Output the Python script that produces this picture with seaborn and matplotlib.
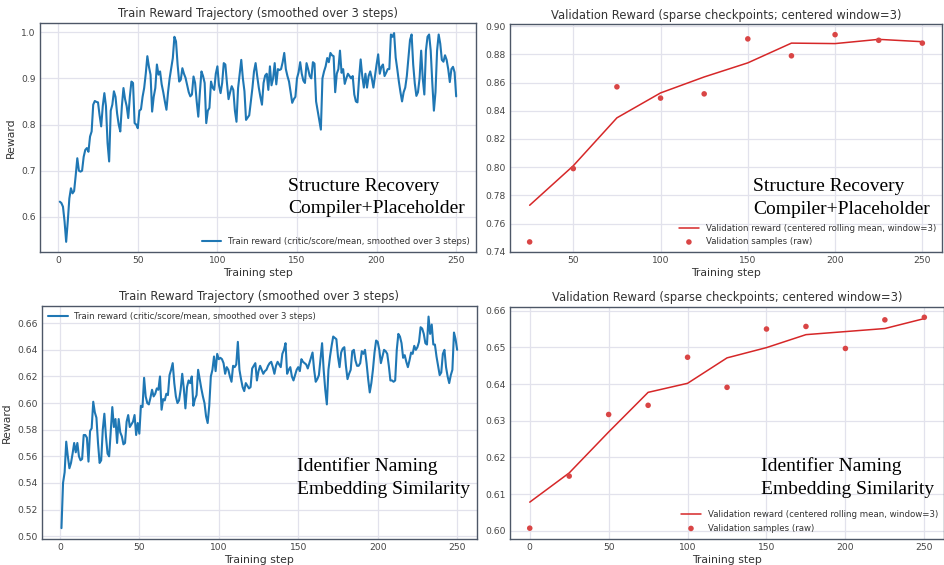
import numpy as np
import pandas as pd
import matplotlib
matplotlib.use("Agg")
import matplotlib.pyplot as plt
import seaborn as sns

# ---- data ----
train_steps = list(range(1, 251))

# Structure Recovery (compiler + placeholder) train reward, smoothed over 3 steps
sr_train = [
    0.633, 0.630, 0.622, 0.590, 0.546, 0.590, 0.640, 0.662, 0.651, 0.656,
    0.690, 0.727, 0.700, 0.698, 0.700, 0.730, 0.745, 0.749, 0.741, 0.774,
    0.785, 0.843, 0.851, 0.849, 0.848, 0.820, 0.796, 0.840, 0.868, 0.840,
    0.760, 0.720, 0.830, 0.843, 0.872, 0.860, 0.824, 0.800, 0.785, 0.840,
    0.879, 0.855, 0.840, 0.814, 0.860, 0.893, 0.890, 0.803, 0.800, 0.792,
    0.830, 0.833, 0.860, 0.879, 0.910, 0.948, 0.925, 0.908, 0.828, 0.860,
    0.879, 0.930, 0.908, 0.915, 0.887, 0.870, 0.850, 0.832, 0.870, 0.900,
    0.922, 0.944, 0.990, 0.980, 0.930, 0.893, 0.897, 0.922, 0.910, 0.901,
    0.885, 0.870, 0.861, 0.865, 0.904, 0.890, 0.850, 0.817, 0.870, 0.915,
    0.905, 0.890, 0.803, 0.830, 0.836, 0.893, 0.880, 0.875, 0.910, 0.926,
    0.885, 0.868, 0.890, 0.933, 0.930, 0.890, 0.855, 0.870, 0.883, 0.875,
    0.830, 0.806, 0.879, 0.910, 0.940, 0.900, 0.872, 0.810, 0.815, 0.820,
    0.850, 0.879, 0.915, 0.933, 0.905, 0.880, 0.860, 0.843, 0.890, 0.906,
    0.910, 0.875, 0.926, 0.885, 0.900, 0.933, 0.887, 0.920, 0.918, 0.920,
    0.935, 0.955, 0.920, 0.905, 0.893, 0.870, 0.847, 0.855, 0.860, 0.900,
    0.913, 0.935, 0.910, 0.895, 0.890, 0.933, 0.920, 0.905, 0.900, 0.935,
    0.932, 0.850, 0.830, 0.810, 0.789, 0.900, 0.915, 0.926, 0.944, 0.935,
    0.955, 0.950, 0.948, 0.870, 0.910, 0.920, 0.960, 0.912, 0.920, 0.888,
    0.900, 0.910, 0.905, 0.900, 0.905, 0.865, 0.850, 0.848, 0.900, 0.941,
    0.905, 0.880, 0.910, 0.880, 0.905, 0.915, 0.900, 0.880, 0.905, 0.930,
    0.952, 0.910, 0.925, 0.930, 0.905, 0.912, 0.920, 0.920, 0.995, 0.990,
    0.998, 0.945, 0.920, 0.893, 0.870, 0.850, 0.870, 0.880, 0.905, 0.944,
    0.983, 0.995, 0.930, 0.889, 0.862, 0.870, 0.900, 0.960, 0.900, 0.865,
    0.960, 0.990, 0.995, 0.960, 0.890, 0.830, 0.870, 0.960, 0.995, 0.975,
    0.940, 0.936, 0.950, 0.940, 0.920, 0.892, 0.920, 0.925, 0.913, 0.861,
]

# Identifier Naming (embedding similarity) train reward, smoothed over 3 steps
idn_train = [
    0.506, 0.540, 0.548, 0.571, 0.560, 0.551, 0.555, 0.562, 0.570, 0.563,
    0.570, 0.560, 0.557, 0.558, 0.576, 0.576, 0.574, 0.556, 0.579, 0.581,
    0.601, 0.593, 0.589, 0.570, 0.555, 0.557, 0.580, 0.592, 0.575, 0.562,
    0.560, 0.578, 0.597, 0.582, 0.588, 0.570, 0.588, 0.578, 0.575, 0.569,
    0.570, 0.586, 0.591, 0.582, 0.584, 0.586, 0.591, 0.576, 0.585, 0.577,
    0.598, 0.597, 0.619, 0.605, 0.600, 0.599, 0.604, 0.610, 0.605, 0.607,
    0.611, 0.610, 0.620, 0.595, 0.603, 0.602, 0.607, 0.606, 0.621, 0.625,
    0.630, 0.615, 0.605, 0.600, 0.602, 0.610, 0.622, 0.611, 0.596, 0.612,
    0.617, 0.615, 0.620, 0.598, 0.603, 0.606, 0.625, 0.618, 0.611, 0.605,
    0.600, 0.590, 0.585, 0.598, 0.620, 0.625, 0.635, 0.624, 0.637, 0.633,
    0.634, 0.633, 0.630, 0.622, 0.627, 0.625, 0.620, 0.616, 0.628, 0.627,
    0.629, 0.646, 0.625, 0.618, 0.612, 0.609, 0.615, 0.613, 0.611, 0.612,
    0.626, 0.628, 0.630, 0.617, 0.624, 0.628, 0.625, 0.622, 0.624, 0.625,
    0.628, 0.630, 0.631, 0.627, 0.622, 0.628, 0.631, 0.629, 0.627, 0.637,
    0.640, 0.645, 0.622, 0.625, 0.627, 0.620, 0.617, 0.621, 0.625, 0.627,
    0.624, 0.633, 0.631, 0.630, 0.629, 0.626, 0.630, 0.634, 0.638, 0.625,
    0.616, 0.618, 0.621, 0.633, 0.645, 0.625, 0.610, 0.599, 0.625, 0.635,
    0.643, 0.650, 0.649, 0.648, 0.635, 0.627, 0.638, 0.641, 0.642, 0.628,
    0.618, 0.622, 0.625, 0.639, 0.640, 0.632, 0.628, 0.628, 0.630, 0.639,
    0.637, 0.640, 0.630, 0.618, 0.608, 0.615, 0.625, 0.638, 0.647, 0.646,
    0.640, 0.630, 0.635, 0.640, 0.639, 0.637, 0.628, 0.617, 0.617, 0.616,
    0.617, 0.640, 0.652, 0.650, 0.645, 0.634, 0.636, 0.631, 0.627, 0.632,
    0.638, 0.637, 0.643, 0.640, 0.642, 0.646, 0.657, 0.656, 0.652, 0.645,
    0.644, 0.665, 0.652, 0.659, 0.644, 0.644, 0.635, 0.628, 0.621, 0.623,
    0.637, 0.640, 0.627, 0.620, 0.615, 0.621, 0.625, 0.653, 0.648, 0.640,
]

sr_val_steps = [25, 50, 75, 100, 125, 150, 175, 200, 225, 250]
sr_val = [0.747, 0.799, 0.857, 0.849, 0.852, 0.891, 0.879, 0.894, 0.890, 0.888]

idn_val_steps = [0, 25, 50, 75, 100, 125, 150, 175, 200, 225, 250]
idn_val = [0.6007, 0.6149, 0.6317, 0.6342, 0.6473, 0.6391, 0.6550, 0.6557,
           0.6497, 0.6575, 0.6582]

panel_labels = ["Structure Recovery\nCompiler+Placeholder",
                "Identifier Naming\nEmbedding Similarity"]

train_label = "Train reward (critic/score/mean, smoothed over 3 steps)"
val_line_label = "Validation reward (centered rolling mean, window=3)"
val_pts_label = "Validation samples (raw)"

# ---- style ----
sns.set_theme(style="whitegrid")
plt.rcParams.update({
    "axes.edgecolor": "#4d5767",
    "axes.linewidth": 1.0,
    "grid.color": "#e2e2ec",
    "grid.linewidth": 0.9,
    "text.color": "#333333",
    "axes.labelcolor": "#333333",
    "xtick.color": "#444444",
    "ytick.color": "#444444",
    "xtick.labelsize": 6.6,
    "ytick.labelsize": 6.6,
    "xtick.major.size": 0,
    "ytick.major.size": 0,
    "xtick.major.pad": 3,
    "ytick.major.pad": 3,
})
plt.rcParams["font.family"] = ["DejaVu Sans"]

fig = plt.figure(figsize=(9.45, 5.65), dpi=100)

positions = {
    "tl": [0.0423, 0.5535, 0.4614, 0.4064],
    "tr": [0.5397, 0.5535, 0.4571, 0.4035],
    "bl": [0.0441, 0.0465, 0.4606, 0.4119],
    "br": [0.5397, 0.0465, 0.4593, 0.4106],
}

blue = "#1f77b4"
red = "#d62728"


def overlay(ax, x, y, label):
    ax.text(x, y, label, transform=ax.transAxes, ha="left", va="top",
            fontsize=14, family="Liberation Serif", color="black",
            linespacing=1.42)


def train_panel(ax, values, legend_loc, text_x, text_y, label):
    df = pd.DataFrame({"step": train_steps, "reward": values})
    sns.lineplot(data=df, x="step", y="reward", ax=ax, color=blue,
                 linewidth=1.5, label=train_label)
    ax.set_title("Train Reward Trajectory (smoothed over 3 steps)",
                 fontsize=8.3, pad=4)
    ax.set_xlabel("Training step", fontsize=7.8, labelpad=2)
    ax.set_ylabel("Reward", fontsize=7.8, labelpad=4)
    ax.legend(loc=legend_loc, frameon=False, fontsize=6.2,
              handlelength=2.3, borderaxespad=0.3)
    overlay(ax, text_x, text_y, label)
    for s in ax.spines.values():
        s.set_visible(True)


def val_panel(ax, steps, values, text_x, text_y, label):
    df = pd.DataFrame({"step": steps, "reward": values})
    df["smooth"] = df["reward"].rolling(3, center=True, min_periods=1).mean()
    sns.lineplot(data=df, x="step", y="smooth", ax=ax, color=red,
                 linewidth=1.1, label=val_line_label)
    sns.scatterplot(data=df, x="step", y="reward", ax=ax, color="#d94545",
                    s=16, edgecolor="none", label=val_pts_label, zorder=3)
    ax.set_title("Validation Reward (sparse checkpoints; centered window=3)",
                 fontsize=8.3, pad=4)
    ax.set_xlabel("Training step", fontsize=7.8, labelpad=2)
    ax.set_ylabel("")
    ax.legend(loc="lower right", frameon=False, fontsize=6.2,
              handlelength=2.3, borderaxespad=0.3)
    overlay(ax, text_x, text_y, label)
    for s in ax.spines.values():
        s.set_visible(True)


ax_tl = fig.add_axes(positions["tl"])
train_panel(ax_tl, sr_train, "lower right", 0.569, 0.325, panel_labels[0])

ax_tr = fig.add_axes(positions["tr"])
val_panel(ax_tr, sr_val_steps, sr_val, 0.563, 0.325, panel_labels[0])

ax_bl = fig.add_axes(positions["bl"])
train_panel(ax_bl, idn_train, "upper left", 0.586, 0.35, panel_labels[1])

ax_br = fig.add_axes(positions["br"])
val_panel(ax_br, idn_val_steps, idn_val, 0.579, 0.35, panel_labels[1])

fig.savefig("out.png", dpi=100)
